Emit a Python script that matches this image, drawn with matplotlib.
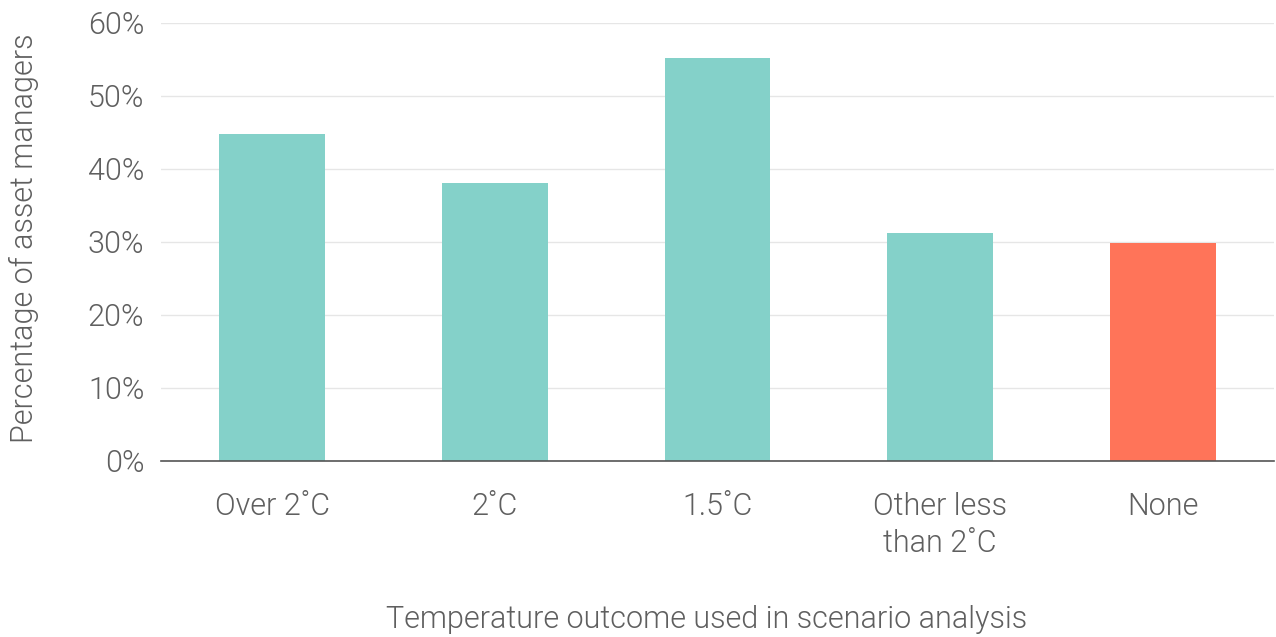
import matplotlib
matplotlib.use("Agg")
from matplotlib import pyplot as plt
from matplotlib.ticker import FuncFormatter

# temperature outcomes and share of asset managers (%)
categories = ["Over 2˚C", "2˚C", "1.5˚C", "Other less\nthan 2˚C", "None"]
values = [44.8, 38.1, 55.2, 31.3, 29.9]
colors = ["#84d1c9", "#84d1c9", "#84d1c9", "#84d1c9", "#ff7459"]
y_ticks = [0, 10, 20, 30, 40, 50, 60]

plt.rcParams["font.family"] = ["Roboto", "DejaVu Sans"]
text_color = "#5f5f5f"
weight = 300

fig = plt.figure(figsize=(12.76, 6.37), dpi=100)
ax = fig.add_axes([0.1262, 0.2763, 0.8722, 0.6876])

x = range(len(categories))
ax.bar(x, values, width=0.475, color=colors, zorder=2)

ax.set_xlim(-0.5, len(categories) - 0.5)
ax.set_ylim(0, 60)
ax.set_yticks(y_ticks)
ax.yaxis.set_major_formatter(FuncFormatter(lambda v, p: f"{v:.0f}%"))
ax.set_xticks(list(x))
ax.set_xticklabels(categories, linespacing=1.35)

ax.grid(axis="y", color="#e6e6e6", linewidth=1, zorder=0)
for s in ["top", "right", "left"]:
    ax.spines[s].set_visible(False)
ax.spines["bottom"].set_color("#555555")
ax.spines["bottom"].set_linewidth(1.2)
ax.spines["bottom"].set_zorder(3)

ax.tick_params(axis="y", length=0, pad=12, labelsize=22, labelcolor=text_color)
ax.tick_params(axis="x", length=0, pad=22, labelsize=22, labelcolor=text_color)
for lbl in ax.get_xticklabels() + ax.get_yticklabels():
    lbl.set_fontweight(weight)

# axis titles
fig.text(0.019, 0.6265, "Percentage of asset managers", rotation=90,
         fontsize=22, color=text_color, fontweight=weight, ha="center", va="center")
fig.text(0.554, 0.027, "Temperature outcome used in scenario analysis",
         fontsize=22, color=text_color, fontweight=weight, ha="center", va="center")

fig.savefig("out.png", dpi=100)
